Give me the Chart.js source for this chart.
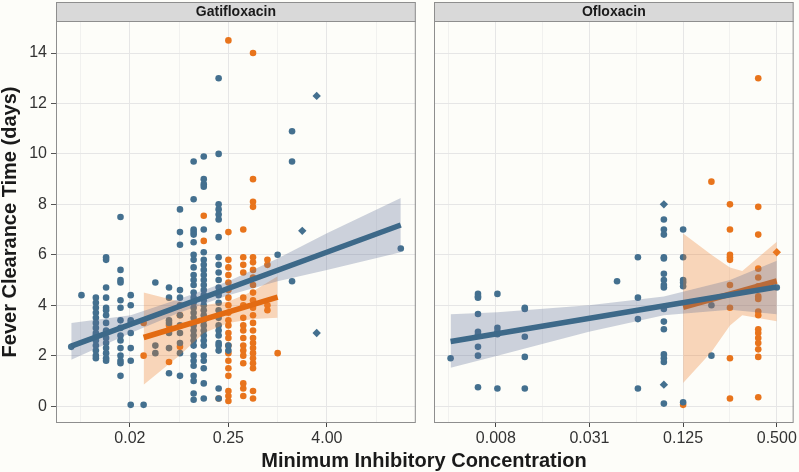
<!DOCTYPE html>
<html>
<head>
<meta charset="utf-8">
<script src="https://cdn.jsdelivr.net/npm/chart.js@4.4.1/dist/chart.umd.min.js"></script>
<style>
  html, body { margin: 0; padding: 0; background: #fdfdf9; }
  #wrap { position: relative; width: 799px; height: 472px; overflow: hidden; font-family: "Liberation Sans", Arial, sans-serif; }
  .panel { position: absolute; top: 0; height: 472px; }
  #gatiBox { left: 0; width: 420px; }
  #ofloBox { left: 424px; width: 375px; }
  #xTitle { position: absolute; left: 224px; width: 400px; top: 450px; text-align: center;
            font-weight: bold; font-size: 20px; line-height: 20px; color: #1a1a1a; white-space: nowrap; }
</style>
</head>
<body>
<div id="wrap">
  <div class="panel" id="gatiBox"><canvas id="gati" width="420" height="472"></canvas></div>
  <div class="panel" id="ofloBox"><canvas id="oflo" width="375" height="472"></canvas></div>
  <div id="xTitle">Minimum Inhibitory Concentration</div>
</div>
<script>
/* Fever clearance time vs MIC, two facets (Gatifloxacin / Ofloxacin), log2 x axis. */

// ---- data: [MIC, [fever clearance days...]] per MIC column ----
const gatiBlue = [
  [0.003, [2.35]],
  [0.004, [4.4]],
  [0.006, [4.3, 4.1, 3.9, 3.7, 3.5, 3.3, 3.1, 2.9, 2.8, 2.6, 2.4, 2.2, 2.0, 1.9]],
  [0.008, [5.9, 5.8, 4.7, 4.3, 3.9, 3.8, 3.6, 3.3, 3.0, 2.9, 2.7, 2.5, 2.3, 2.1, 1.9, 1.8]],
  [0.012, [7.5, 5.4, 5.0, 4.9, 4.2, 3.9, 3.4, 3.1, 2.8, 2.6, 2.3, 2.0, 1.8, 1.7, 1.2]],
  [0.016, [4.4, 4.0, 3.4, 3.3, 2.9, 2.3, 1.8, 0.05]],
  [0.023, [0.05]],
  [0.032, [4.9, 2.4, 2.1]],
  [0.047, [4.7, 4.3, 3.4, 3.3, 2.9, 2.3, 1.3]],
  [0.064, [7.8, 6.9, 6.4, 4.6, 4.3, 4.0, 3.6, 3.2, 2.9, 2.5, 2.1, 1.2]],
  [0.094, [9.7, 8.2, 7.0, 6.9, 6.8, 6.5, 6.0, 5.8, 5.5, 5.2, 5.0, 4.8, 4.5, 4.3, 4.1, 3.9, 3.7, 3.5, 3.2, 3.0, 2.8, 2.6, 2.4, 2.0, 1.8, 1.6, 1.2, 1.0, 0.5, 0.25]],
  [0.125, [9.9, 9.0, 8.8, 8.7, 7.0, 6.1, 5.8, 5.6, 5.4, 5.2, 5.0, 4.8, 4.6, 4.4, 4.2, 4.0, 3.8, 3.6, 3.4, 3.2, 3.0, 2.8, 2.6, 2.4, 2.0, 1.8, 1.5, 0.9, 0.3]],
  [0.19,  [13.0, 10.0, 8.0, 7.8, 7.6, 7.4, 6.7, 5.9, 5.6, 5.3, 5.0, 4.7, 4.4, 4.1, 3.8, 3.5, 3.2, 3.0, 2.8, 2.5, 2.4, 2.2, 0.7, 0.3]],
  [0.25,  [2.4, 2.2]],
  [1,     [6.0]],
  [1.5,   [10.9, 9.7, 4.95]],
  [32,    [6.25]]
];
const gatiBlueDiamonds = [[2, 6.95], [3, 12.3], [3, 2.9]];

const gatiOrange = [
  [0.023, [3.3, 2.0]],
  [0.047, [3.2, 1.75]],
  [0.064, [3.6, 2.35]],
  [0.125, [7.55, 6.55]],
  [0.19,  [0.3]],
  [0.25,  [14.5, 6.9, 5.8, 5.5, 5.2, 4.9, 4.6, 4.3, 4.0, 3.7, 3.4, 3.2, 2.9, 2.7, 2.4, 2.1, 1.8, 1.5, 1.2, 0.6, 0.4, 0.2]],
  [0.38,  [7.0, 5.9, 5.6, 5.3, 4.3, 4.0, 3.5, 3.2, 3.0, 2.7, 2.4, 2.2, 2.0, 1.7, 0.9, 0.7, 0.4]],
  [0.5,   [14.0, 9.0, 8.1, 7.9, 5.9, 5.7, 5.4, 5.1, 4.8, 4.5, 4.2, 3.9, 3.6, 3.3, 3.0, 2.7, 2.5, 2.3, 2.1, 1.9, 1.7, 1.5, 0.6, 0.3]],
  [0.75,  [5.8, 5.6, 4.0, 3.8]],
  [1,     [2.1]]
];

const ofloBlue = [
  [0.004, [1.9]],
  [0.006, [4.45, 4.35, 4.3, 3.65, 2.95, 2.85, 2.35, 2.0, 0.75]],
  [0.008, [4.45, 3.1, 2.95, 2.85, 0.7]],
  [0.012, [3.9, 3.85, 2.75, 1.95, 0.7]],
  [0.047, [4.95]],
  [0.064, [5.9, 4.3, 3.45, 0.7]],
  [0.094, [7.4, 7.0, 6.8, 5.9, 5.85, 5.25, 5.0, 4.8, 4.7, 3.85, 3.35, 3.05, 2.05, 1.9, 1.75, 0.1]],
  [0.125, [7.0, 5.9, 5.0, 4.9, 4.75, 0.15]],
  [0.19,  [4.0, 2.0]],
  [0.5,   [4.7]]
];
const ofloBlueDiamonds = [[0.094, 8.0], [0.094, 0.85]];

const ofloOrange = [
  [0.125, [0.05]],
  [0.19,  [8.9]],
  [0.25,  [8.0, 7.0, 6.0, 5.9, 5.8, 4.8, 3.9, 1.9, 0.3]],
  [0.38,  [13.0, 7.9, 6.8, 5.45, 5.1, 4.75, 4.35, 4.25, 3.75, 3.6, 3.05, 2.9, 2.7, 2.5, 2.25, 1.95, 0.35]]
];
const ofloOrangeDiamonds = [[0.5, 6.1]];

// ---- fitted lines and confidence bands ----
const gatiBlueFitMic = [0.003, 32],   gatiBlueFitDays = [2.38, 7.18];
const gatiBlueBandMic = [0.003, 0.016, 0.0625, 0.25, 1, 4, 32];
const gatiBlueBandHi  = [3.3, 3.6, 4.25, 4.95, 5.85, 6.85, 8.25];
const gatiBlueBandLo  = [1.84, 2.9, 3.7, 4.4, 4.95, 5.4, 6.1];

const gatiOrangeFitMic = [0.023, 1],  gatiOrangeFitDays = [2.72, 4.32];
const gatiOrangeBandMic = [0.023, 0.0625, 0.125, 0.25, 0.5, 1];
const gatiOrangeBandHi  = [4.5, 4.15, 4.0, 4.15, 4.55, 5.15];
const gatiOrangeBandLo  = [0.85, 2.0, 2.9, 3.3, 3.45, 3.5];

const ofloBlueFitMic = [0.004, 0.5],  ofloBlueFitDays = [2.56, 4.72];
const ofloBlueBandMic = [0.004, 0.008, 0.031, 0.094, 0.25, 0.5];
const ofloBlueBandHi  = [3.64, 3.72, 4.0, 4.35, 5.0, 5.76];
const ofloBlueBandLo  = [1.52, 2.0, 2.95, 3.6, 3.82, 3.64];

const ofloOrangeFitMic = [0.125, 0.5], ofloOrangeFitDays = [3.92, 4.96];
const ofloOrangeBandMic = [0.125, 0.19, 0.25, 0.3, 0.5];
const ofloOrangeBandHi  = [6.84, 6.0, 5.5, 5.36, 6.52];
const ofloOrangeBandLo  = [0.92, 2.15, 3.2, 3.6, 3.36];

// ---- axes ----
const yTicks = [0, 2, 4, 6, 8, 10, 12, 14];
const gatiTickMic = [0.015625, 0.25, 4],     gatiTickLabels = ["0.02", "0.25", "4.00"];
const gatiGridMic = [1/256, 1/64, 1/16, 0.25, 1, 4, 16];
const ofloTickMic = [0.0078125, 0.03125, 0.125, 0.5], ofloTickLabels = ["0.008", "0.031", "0.125", "0.500"];
const ofloGridMic = [1/256, 1/128, 1/64, 1/32, 1/16, 1/8, 1/4, 1/2];

(function () {
  const BLUE = "#44708f", BLUE_LINE = "#3d6989", ORANGE = "#e8741c", ORANGE_LINE = "#e36b12";
  const BLUE_BAND = "rgba(93,110,150,0.3)", ORANGE_BAND = "rgba(237,123,35,0.3)";
  const FONT = '"Liberation Sans", Arial, sans-serif';
  Chart.defaults.font.family = FONT;

  const lg = Math.log2;
  const colPoints = cols => cols.flatMap(([m, ds]) => ds.map(d => ({ x: lg(m), y: d })));
  const pairPoints = pairs => pairs.map(([m, d]) => ({ x: lg(m), y: d }));
  const zip = (mics, vals) => mics.map((m, i) => ({ x: lg(m), y: vals[i] }));

  function group(o) {
    return [
      { data: zip(o.fitMic, o.fitDays), showLine: true, borderColor: o.line, borderWidth: 5.5, pointRadius: 0, order: o.order },
      { data: zip(o.bandMic, o.hi), showLine: true, borderColor: "transparent", borderWidth: 0, pointRadius: 0,
        backgroundColor: o.band, fill: "+1", order: o.order + 1 },
      { data: zip(o.bandMic, o.lo), showLine: true, borderColor: "transparent", borderWidth: 0, pointRadius: 0,
        fill: false, order: o.order + 1 },
      { data: colPoints(o.cols), backgroundColor: o.color, borderWidth: 0, pointRadius: 3.3, order: 10 },
      { data: pairPoints(o.diamonds || []), backgroundColor: o.color, borderWidth: 0, pointRadius: 4.2,
        pointStyle: "rectRot", order: 10 }
    ];
  }

  // panel border + grey facet strip
  const panelFrame = {
    id: "panelFrame",
    afterDraw(chart, args, opts) {
      const { ctx, chartArea: a } = chart;
      ctx.save();
      ctx.strokeStyle = "#8e8e8e"; ctx.lineWidth = 1;
      ctx.strokeRect(a.left + 0.5, a.top + 0.5, a.right - a.left - 1, a.bottom - a.top - 1);
      ctx.fillStyle = "#d9d9d9";
      ctx.fillRect(a.left, 2, a.right - a.left, a.top - 2);
      ctx.strokeRect(a.left + 0.5, 2.5, a.right - a.left - 1, a.top - 2);
      ctx.fillStyle = "#1a1a1a";
      ctx.font = "bold 14px " + FONT;
      ctx.textAlign = "center"; ctx.textBaseline = "middle";
      ctx.fillText(opts.label, (a.left + a.right) / 2, (2 + a.top) / 2 + 1);
      ctx.restore();
    }
  };

  function xScale(min, max, gridMic, tickMic, tickLabels) {
    const majors = tickMic.map(lg);
    const majorIdx = v => majors.findIndex(m => Math.abs(m - v) < 1e-6);
    return {
      type: "linear", min, max,
      afterBuildTicks: s => { s.ticks = gridMic.map(m => ({ value: lg(m) })); },
      afterFit: s => { s.height = 49; },
      ticks: { autoSkip: false, maxRotation: 0, minRotation: 0, padding: 2, color: "#333", font: { size: 16 },
               callback: v => { const i = majorIdx(v); return i >= 0 ? tickLabels[i] : ""; } },
      grid: { color: c => majorIdx(c.tick.value) >= 0 ? "#e6e6e6" : "#f1f1ef", lineWidth: 1, tickLength: 4,
              tickColor: c => majorIdx(c.tick.value) >= 0 ? "#444" : "rgba(0,0,0,0)" },
      border: { display: false }
    };
  }

  function yScale(showLabels) {
    return {
      min: -0.67, max: 15.27,
      afterBuildTicks: s => { s.ticks = yTicks.map(v => ({ value: v })); },
      afterFit: s => { s.width = showLabels ? 56 : 0; },
      ticks: { display: showLabels, padding: 4, color: "#333", font: { size: 16 } },
      grid: { color: "#e6e6e6", lineWidth: 1, tickLength: 5, tickColor: "#555", drawTicks: showLabels },
      border: { display: false },
      title: { display: showLabels, text: "Fever Clearance Time (days)", color: "#1a1a1a", padding: 0,
               font: { size: 20, weight: "bold", lineHeight: 1 } }
    };
  }

  function makeChart(id, label, datasets, x, padLeft) {
    return new Chart(document.getElementById(id), {
      type: "scatter",
      data: { datasets },
      options: {
        responsive: false, animation: false, devicePixelRatio: 1,
        layout: { padding: { top: 21, right: 4, bottom: 0, left: padLeft } },
        plugins: { legend: { display: false }, tooltip: { enabled: false }, panelFrame: { label } },
        scales: { x, y: yScale(padLeft === 0) }
      },
      plugins: [panelFrame]
    });
  }

  makeChart("gati", "Gatifloxacin", [
    ...group({ cols: gatiBlue, diamonds: gatiBlueDiamonds, color: BLUE, line: BLUE_LINE, band: BLUE_BAND, order: 0,
               fitMic: gatiBlueFitMic, fitDays: gatiBlueFitDays, bandMic: gatiBlueBandMic, hi: gatiBlueBandHi, lo: gatiBlueBandLo }),
    ...group({ cols: gatiOrange, color: ORANGE, line: ORANGE_LINE, band: ORANGE_BAND, order: 2,
               fitMic: gatiOrangeFitMic, fitDays: gatiOrangeFitDays, bandMic: gatiOrangeBandMic, hi: gatiOrangeBandHi, lo: gatiOrangeBandLo })
  ], xScale(-9.0, 5.61, gatiGridMic, gatiTickMic, gatiTickLabels), 0);

  makeChart("oflo", "Ofloxacin", [
    ...group({ cols: ofloBlue, diamonds: ofloBlueDiamonds, color: BLUE, line: BLUE_LINE, band: BLUE_BAND, order: 0,
               fitMic: ofloBlueFitMic, fitDays: ofloBlueFitDays, bandMic: ofloBlueBandMic, hi: ofloBlueBandHi, lo: ofloBlueBandLo }),
    ...group({ cols: ofloOrange, diamonds: ofloOrangeDiamonds, color: ORANGE, line: ORANGE_LINE, band: ORANGE_BAND, order: 2,
               fitMic: ofloOrangeFitMic, fitDays: ofloOrangeFitDays, bandMic: ofloOrangeBandMic, hi: ofloOrangeBandHi, lo: ofloOrangeBandLo })
  ], xScale(-8.32, -0.64, ofloGridMic, ofloTickMic, ofloTickLabels), 10);
})();
</script>
</body>
</html>
